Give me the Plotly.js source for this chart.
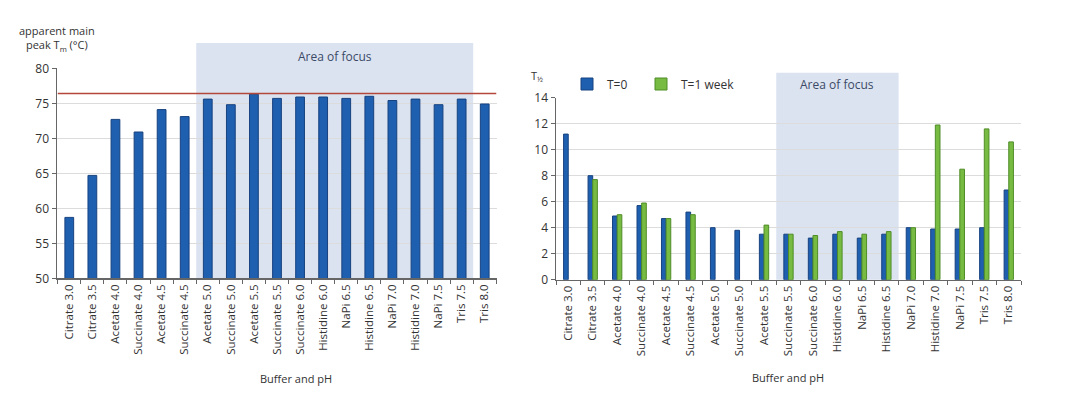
<!DOCTYPE html>
<html>
<head>
<meta charset="utf-8">
<script src="https://cdn.plot.ly/plotly-3.0.1.min.js"></script>
<style>html,body{margin:0;padding:0;background:#fff}#chart{width:1080px;height:418px}</style>
</head>
<body>
<div id="chart"></div>
<script>
// ---- data ----
const categoriesTm = ["Citrate 3.0","Citrate 3.5","Acetate 4.0","Succinate 4.0","Acetate 4.5","Succinate 4.5","Acetate 5.0","Succinate 5.0","Acetate 5.5","Succinate 5.5","Succinate 6.0","Histidine 6.0","NaPi 6.5","Histidine 6.5","NaPi 7.0","Histidine 7.0","NaPi 7.5","Tris 7.5","Tris 8.0"];
const tmValues = [58.7,64.7,72.7,70.9,74.1,73.1,75.6,74.8,76.3,75.7,75.9,75.9,75.7,76.0,75.4,75.6,74.8,75.6,74.9];
const tmReference = 76.4;

const categoriesHalf = ["Citrate 3.0","Citrate 3.5","Acetate 4.0","Succinate 4.0","Acetate 4.5","Succinate 4.5","Acetate 5.0","Succinate 5.0","Acetate 5.5","Succinate 5.5","Succinate 6.0","Histidine 6.0","NaPi 6.5","Histidine 6.5","NaPi 7.0","Histidine 7.0","NaPi 7.5","Tris 7.5","Tris 8.0"];
const halfT0 = [11.2,8.0,4.9,5.7,4.7,5.2,4.0,3.8,3.5,3.5,3.2,3.5,3.2,3.5,4.0,3.9,3.9,4.0,6.9];
const halfT1w = [null,7.7,5.0,5.9,4.7,5.0,null,null,4.2,3.5,3.4,3.7,3.5,3.7,4.0,11.9,8.5,11.6,10.6];
const seriesNames = ["T=0","T=1 week"];

const focusLeft = [5.5, 17.5];
const focusRight = [8.5, 13.5];

// ---- styling ----
const W = 1080, H = 418;
const px = v => v / W;
const py = v => (H - v) / H;
const FONT = "Open Sans, Lato, sans-serif";
const TXT = "#333";
const BLUE = "#1f5fb0", BLUE_L = "#17427f";
const GREEN = "#77bb42", GREEN_L = "#4f8d27";

const traces = [
  {type:"bar", x:categoriesTm, y:tmValues, xaxis:"x", yaxis:"y", showlegend:false,
   marker:{color:BLUE, line:{color:BLUE_L, width:1}}, hoverinfo:"x+y"},
  {type:"bar", x:categoriesHalf, y:halfT0, xaxis:"x2", yaxis:"y2", name:seriesNames[0], legend:"legend",
   marker:{color:BLUE, line:{color:BLUE_L, width:1}}},
  {type:"bar", x:categoriesHalf, y:halfT1w, xaxis:"x2", yaxis:"y2", name:seriesNames[1], legend:"legend2",
   marker:{color:GREEN, line:{color:GREEN_L, width:1}}}
];

const axX = (dom) => ({
  domain: dom, type:"category", tickangle:-90, tickfont:{family:FONT, size:11.5, color:TXT},
  showline:true, linecolor:"#666", linewidth:1.5, ticks:"outside", ticklen:4, tickcolor:"#666",
  tickson:"boundaries", showgrid:false, automargin:false, fixedrange:true
});
const axY = (dom, range, dtick) => ({
  domain: dom, range: range, dtick: dtick, tick0: range[0],
  tickfont:{family:FONT, size:12, color:TXT},
  showline:true, linecolor:"#666", linewidth:1.5, ticks:"outside", ticklen:4, tickcolor:"#666",
  showgrid:true, gridcolor:"#dcdcdc", gridwidth:1.5, zeroline:false, automargin:false, fixedrange:true
});

const ann = (text, x, y, size, color) => ({
  text:text, xref:"paper", yref:"paper", x:px(x), y:py(y), xanchor:"center", yanchor:"middle",
  showarrow:false, align:"center", font:{family:FONT, size:size, color:color || TXT}
});
const leg = (x) => ({orientation:"h", x:px(x), y:py(84), xanchor:"left", yanchor:"middle",
  font:{family:FONT, size:12, color:TXT}, bgcolor:"rgba(0,0,0,0)"});

const layout = {
  width:W, height:H, margin:{l:0,r:0,t:0,b:0}, paper_bgcolor:"#fff", plot_bgcolor:"rgba(0,0,0,0)",
  font:{family:FONT, color:TXT},
  xaxis: Object.assign(axX([px(57), px(497)]), {anchor:"y"}),
  yaxis: Object.assign(axY([1-278.3/H, 1-68.3/H], [50,80], 5), {anchor:"x"}),
  xaxis2: Object.assign(axX([px(556), px(1021)]), {anchor:"y2"}),
  yaxis2: Object.assign(axY([1-279.7/H, 1-97.7/H], [0,14], 2), {anchor:"x2"}),
  bargap:0.62, barmode:"group",
  showlegend:true,
  legend: leg(567),
  legend2: leg(641),
  shapes:[
    {type:"rect", xref:"x", yref:"paper", x0:focusLeft[0], x1:focusLeft[1], y0:1-278.3/H, y1:py(43),
     fillcolor:"rgba(170,188,222,0.42)", line:{width:0}, layer:"below"},
    {type:"rect", xref:"x2", yref:"paper", x0:focusRight[0], x1:focusRight[1], y0:1-279.7/H, y1:py(72.7),
     fillcolor:"rgba(170,188,222,0.42)", line:{width:0}, layer:"below"},
    {type:"line", xref:"x", yref:"y", x0:-0.5, x1:18.5, y0:tmReference, y1:tmReference,
     line:{color:"#b3473b", width:1.5}}
  ],
  annotations:[
    ann("Area of focus", 334.5, 57, 12, "#3c4a66"),
    ann("Area of focus", 837, 84, 12, "#3c4a66"),
    ann("apparent main<br>peak T<sub>m</sub> (°C)", 57, 39, 11),
    ann("T<sub>½</sub>", 537, 76, 11),
    ann("Buffer and pH", 296, 378, 11),
    ann("Buffer and pH", 788, 377, 11)
  ]
};

Plotly.newPlot("chart", traces, layout, {displayModeBar:false, staticPlot:true});
</script>
</body>
</html>
